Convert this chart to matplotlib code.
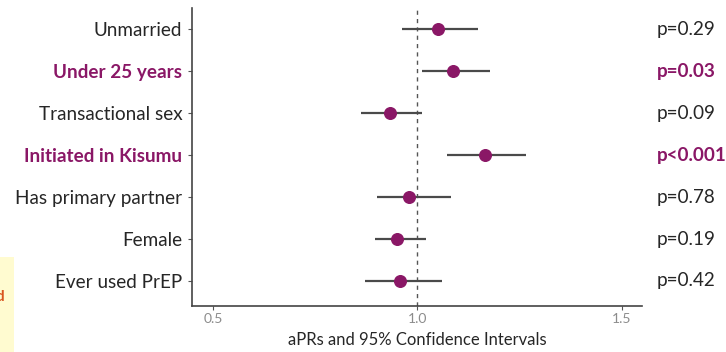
import matplotlib.pyplot as plt
from matplotlib.patches import Rectangle

labels = ['Unmarried', 'Under 25 years', 'Transactional sex', 'Initiated in Kisumu',
          'Has primary partner', 'Female', 'Ever used PrEP']
apr = [1.050, 1.088, 0.932, 1.165, 0.980, 0.950, 0.958]
lower = [0.961, 1.011, 0.861, 1.073, 0.902, 0.897, 0.871]
upper = [1.147, 1.177, 1.011, 1.265, 1.082, 1.022, 1.059]
pvals = ['p=0.29', 'p=0.03', 'p=0.09', 'p<0.001', 'p=0.78', 'p=0.19', 'p=0.42']
significant = [False, True, False, True, False, False, False]

purple = '#8a1766'
textdark = '#262626'

plt.rcParams['font.family'] = ['Lato', 'DejaVu Sans']

fig = plt.figure(figsize=(7.26, 3.52), dpi=100)
ax = fig.add_axes([0.2645, 0.1315, 0.6194, 0.8458])

n = len(labels)
ypos = list(range(n, 0, -1))

ax.axvline(1.0, color='#555555', linestyle=(0, (3, 3)), linewidth=1.0, zorder=1)
ax.hlines(ypos, lower, upper, color='#4a4a4a', linewidth=1.6, zorder=2)
ax.scatter(apr, ypos, s=70, color=purple, zorder=3)

ax.set_xlim(0.449, 1.548)
ax.set_ylim(0.41, 7.51)
ax.set_xticks([0.5, 1.0, 1.5])
ax.set_xticklabels(['0.5', '1.0', '1.5'], color='#8c8c8c', fontsize=10)
ax.set_yticks(ypos)
ax.set_yticklabels(labels, fontsize=13.6)
for tl, sig in zip(ax.get_yticklabels(), significant):
    if sig:
        tl.set_color(purple)
        tl.set_fontweight('bold')
    else:
        tl.set_color(textdark)
ax.tick_params(axis='both', length=3, color='#555555', width=0.8)
ax.tick_params(axis='y', pad=4)
ax.tick_params(axis='x', pad=2)

for s in ['top', 'right']:
    ax.spines[s].set_visible(False)
for s in ['left', 'bottom']:
    ax.spines[s].set_color('#444444')
    ax.spines[s].set_linewidth(1.2)

ax.set_xlabel('aPRs and 95% Confidence Intervals', fontsize=12, color=textdark, labelpad=5)

for y, p, sig in zip(ypos, pvals, significant):
    ax.text(0.905, ax.transData.transform((0, y))[1] / fig.bbox.height, p,
            transform=fig.transFigure, fontsize=13.6, va='center', ha='left',
            color=purple if sig else textdark, fontweight='bold' if sig else 'normal')

# pale note box at the left edge of the slide
fig.patches.append(Rectangle((0, 0), 0.019, 0.27, transform=fig.transFigure,
                             facecolor='#fffbd0', edgecolor='none', zorder=0))
fig.text(-0.006, 0.145, 'd', fontsize=11, color='#d9551f', fontweight='bold')

fig.savefig('out.png', dpi=100)
